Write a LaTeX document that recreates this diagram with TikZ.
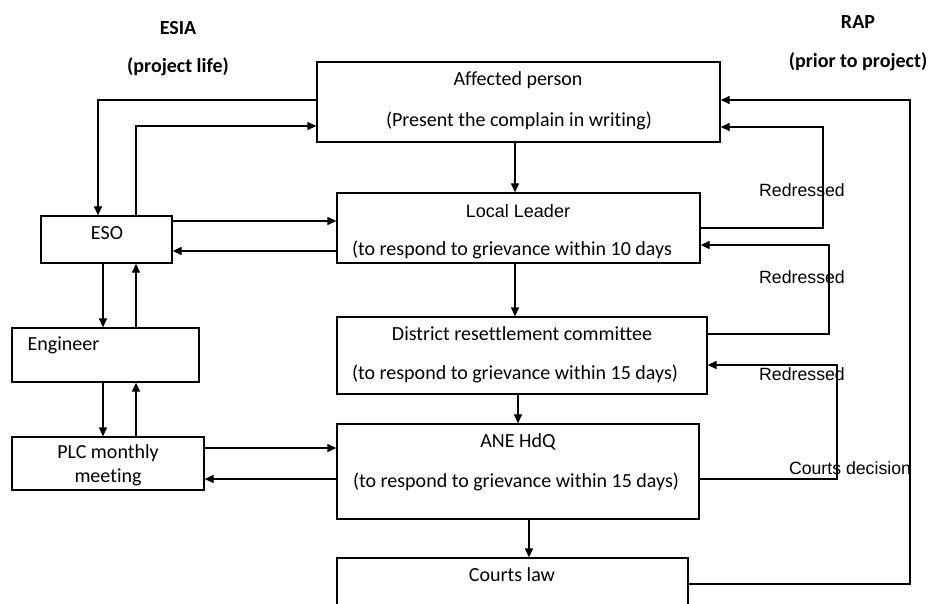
\documentclass[tikz,border=0pt]{standalone}
\usepackage{fontspec}
\setmainfont{Carlito}[Ligatures=NoCommon]
\newfontfamily\arialfont{Liberation Sans}
\usetikzlibrary{arrows.meta}
\begin{document}
\begin{tikzpicture}[x=1pt, y=-1pt, line width=1.3pt, >={Triangle[length=9pt,width=8pt]},
	box/.style={draw, rectangle, inner sep=0pt},
	txt/.style={font=\fontsize{20}{24}\selectfont, inner sep=0pt},
	lbl/.style={font=\arialfont\fontsize{17.7}{21}\selectfont, inner sep=0pt},
	head/.style={font=\bfseries\fontsize{20}{24}\selectfont, inner sep=0pt}]
	\clip (0,0) rectangle (929,604);
	\foreach \n/\xa/\ya/\xb/\yb in {AP/317/62/720/142, LL/337/193/700/263, DRC/337/317/707/394,
		ANE/337/424/699/519, CL/337/558/688/650, ESO/41/216/172/263, ENG/12/328/199/382, PLC/12/437/204/490}
	\node[box, minimum width={(\xb-\xa)*1pt}, minimum height={(\yb-\ya)*1pt}] (\n) at ({(\xa+\xb)/2},{(\ya+\yb)/2}) {};
	\foreach \n/\x/\y/\s in {APa/518/80/Affected person, APb/519/121/(Present the complain in writing),
		LLb/512/250/(to respond to grievance within 10 days, DRCa/522/334/District resettlement committee,
		DRCb/515/374/(to respond to grievance within 15 days), ANEa/518/442/ANE HdQ,
		ANEb/516/482/(to respond to grievance within 15 days), CLa/512/575/Courts law,
		ESOa/107/233/ESO, PLCa/108/453/PLC monthly, PLCb/108/477/meeting}
	\node[txt] (\n) at (\x,\y) {\s};
	\node[txt, font=\arialfont\fontsize{18}{22}\selectfont] (LLa) at (518,211) {Local Leader};
	\node[txt, anchor=west] (ENGa) at (27,345) {Engineer};
	\foreach \n/\x/\y/\s in {ha/178/28/ESIA, hb/178/67/(project life), hc/858/22/RAP, hd/858/62/(prior to project)}
	\node[head] (\n) at (\x,\y) {\s};
	\foreach \n/\x/\y/\s in {la/802/190/Redressed, lb/802/277/Redressed, lc/802/374/Redressed, ld/850/468/Courts decision}
	\node[lbl] (\n) at (\x,\y) {\s};
	\path
	(98,100) coordinate (a1)
	(136,126) coordinate (a2)
	(0,221) coordinate (a3)
	(0,251) coordinate (a4)
	(103,0) coordinate (a5)
	(136,0) coordinate (a6)
	(0,448) coordinate (a7)
	(0,479) coordinate (a8)
	(823,228) coordinate (r1)
	(823,127) coordinate (r2)
	(829,334) coordinate (r3)
	(829,245) coordinate (r4)
	(837,479) coordinate (r5)
	(837,365) coordinate (r6)
	(910,584) coordinate (r7)
	(910,100) coordinate (r8)
	;
	\draw[->] (AP.west |- a1) -| (ESO.north -| a1);
	\draw[->] (ESO.north -| a2) |- (AP.west |- a2);
	\foreach \p/\q/\c in {ESO.east/LL.west/a3, LL.west/ESO.east/a4, PLC.east/ANE.west/a7, ANE.west/PLC.east/a8}
	\draw[->] (\p |- \c) -- (\q |- \c);
	\foreach \p/\q/\c in {ESO.south/ENG.north/a5, ENG.north/ESO.south/a6, ENG.south/PLC.north/a5, PLC.north/ENG.south/a6}
	\draw[->] (\p -| \c) -- (\q -| \c);
	\foreach \p/\q/\x in {AP/LL/515, LL/DRC/515, DRC/ANE/518, ANE/CL/529}
	{\coordinate (m) at (\x,0);
	\draw[->] (\p.south -| m) -- (\q.north -| m);}
	\foreach \p/\q/\a/\b in {LL/AP/r1/r2, DRC/LL/r3/r4, ANE/DRC/r5/r6, CL/AP/r7/r8}
	\draw[->] (\p.east |- \a) -- (\a) -- (\b) -- (\q.east |- \b);
\end{tikzpicture}
\end{document}
